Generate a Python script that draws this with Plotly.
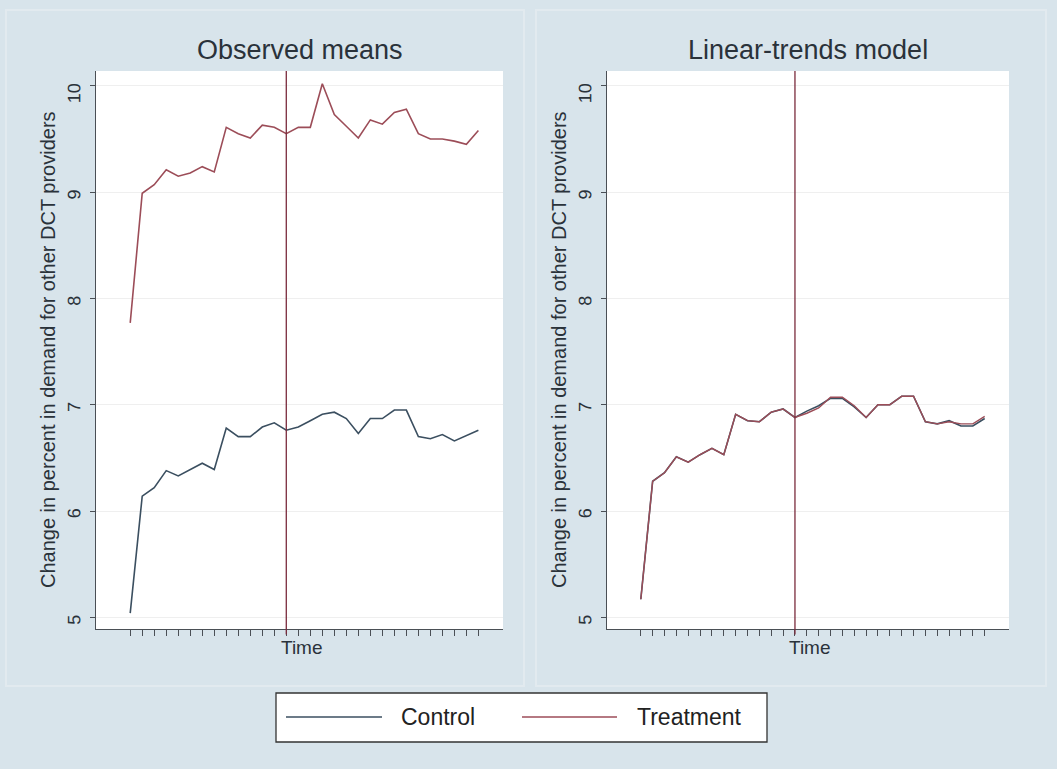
import plotly.graph_objects as go

# ---- data ----
time_idx = list(range(30))
intervention_time = 13

obs_control = [5.04, 6.14, 6.22, 6.38, 6.33, 6.39, 6.45, 6.39, 6.78, 6.70,
               6.70, 6.79, 6.83, 6.76, 6.79, 6.85, 6.91, 6.93, 6.87, 6.73,
               6.87, 6.87, 6.95, 6.95, 6.70, 6.68, 6.72, 6.66, 6.71, 6.76]
obs_treatment = [7.77, 8.99, 9.07, 9.21, 9.15, 9.18, 9.24, 9.19, 9.61, 9.55,
                 9.51, 9.63, 9.61, 9.55, 9.61, 9.61, 10.02, 9.73, 9.62, 9.51,
                 9.68, 9.64, 9.75, 9.78, 9.55, 9.50, 9.50, 9.48, 9.45, 9.58]
mod_control = [5.17, 6.28, 6.36, 6.51, 6.46, 6.53, 6.59, 6.53, 6.91, 6.85,
               6.84, 6.93, 6.96, 6.88, 6.94, 6.99, 7.06, 7.06, 6.98, 6.88,
               7.00, 7.00, 7.08, 7.08, 6.84, 6.82, 6.85, 6.80, 6.80, 6.87]
mod_treatment = [5.17, 6.28, 6.36, 6.51, 6.46, 6.53, 6.59, 6.53, 6.91, 6.85,
                 6.84, 6.93, 6.96, 6.88, 6.92, 6.97, 7.07, 7.07, 6.99, 6.88,
                 7.00, 7.00, 7.08, 7.08, 6.84, 6.82, 6.84, 6.82, 6.82, 6.89]

panel_titles = ["Observed means", "Linear-trends model"]
y_title = "Change in percent in demand for other DCT providers"
x_title = "Time"
y_ticks = [5, 6, 7, 8, 9, 10]
legend_names = ["Control", "Treatment"]

# ---- style ----
W, H = 1057, 769
BG = "#d8e4eb"
C_CTRL = "#3b4f60"
C_TREAT = "#9c4d58"
C_VLINE = "#7a2b3c"
AX = "#4a4f55"
TXT = "#2a323a"
FONT = "Liberation Sans, Arial, sans-serif"

def px(x):
    return x / W

def py(y):
    return 1 - y / H

fig = go.Figure()

fig.add_trace(go.Scatter(x=time_idx, y=obs_control, mode="lines", xaxis="x", yaxis="y",
                         line=dict(color=C_CTRL, width=1.6), showlegend=False, name=legend_names[0]))
fig.add_trace(go.Scatter(x=time_idx, y=obs_treatment, mode="lines", xaxis="x", yaxis="y",
                         line=dict(color=C_TREAT, width=1.6), showlegend=False, name=legend_names[1]))
fig.add_trace(go.Scatter(x=time_idx, y=mod_control, mode="lines", xaxis="x2", yaxis="y2",
                         line=dict(color=C_CTRL, width=1.6), showlegend=False, name=legend_names[0]))
fig.add_trace(go.Scatter(x=time_idx, y=mod_treatment, mode="lines", xaxis="x2", yaxis="y2",
                         line=dict(color=C_TREAT, width=1.4), showlegend=False, name=legend_names[1]))

ydom = [py(629), py(71)]
xdoms = [[px(96), px(503)], [px(607), px(1009)]]

common_x = dict(range=[-2.85, 31.05], tickvals=time_idx, ticktext=[""] * len(time_idx),
                ticks="outside", ticklen=6, tickcolor=AX, tickwidth=1,
                showline=True, linecolor=AX, linewidth=1.2, showgrid=False, zeroline=False,
                fixedrange=True)
common_y = dict(range=[4.89, 10.14], tickvals=y_ticks, ticks="outside", ticklen=5,
                tickcolor=AX, tickwidth=1, tickangle=-89.9, ticklabelstandoff=15,
                tickfont=dict(family=FONT, size=18, color=TXT),
                showline=True, linecolor=AX, linewidth=1.2,
                showgrid=True, gridcolor="#efefef", gridwidth=1, zeroline=False, fixedrange=True)

fig.update_layout(
    width=W, height=H,
    margin=dict(l=0, r=0, t=0, b=0),
    paper_bgcolor=BG, plot_bgcolor="white",
    font=dict(family=FONT, color=TXT),
    showlegend=False,
    xaxis=dict(domain=xdoms[0], anchor="y", **common_x),
    yaxis=dict(domain=ydom, anchor="x", **common_y),
    xaxis2=dict(domain=xdoms[1], anchor="y2", **common_x),
    yaxis2=dict(domain=ydom, anchor="x2", **common_y),
)

shapes = []
# subtle panel frames
for x0, x1 in [(6, 524), (536, 1046)]:
    shapes.append(dict(type="rect", xref="paper", yref="paper", x0=px(x0), x1=px(x1),
                       y0=py(686), y1=py(10), line=dict(color="#e2eaef", width=2),
                       fillcolor="rgba(0,0,0,0)", layer="below"))
# intervention lines
for xr, yr in [("x", "y domain"), ("x2", "y2 domain")]:
    shapes.append(dict(type="line", xref=xr, yref=yr, x0=intervention_time, x1=intervention_time,
                       y0=-0.01, y1=1.0, line=dict(color=C_VLINE, width=1.3)))
# legend box
shapes.append(dict(type="rect", xref="paper", yref="paper", x0=px(276), x1=px(767),
                   y0=py(742), y1=py(693), line=dict(color="#333333", width=1.3),
                   fillcolor="white"))
shapes.append(dict(type="line", xref="paper", yref="paper", x0=px(286), x1=px(382),
                   y0=py(717), y1=py(717), line=dict(color=C_CTRL, width=1.6)))
shapes.append(dict(type="line", xref="paper", yref="paper", x0=px(522), x1=px(617),
                   y0=py(717), y1=py(717), line=dict(color=C_TREAT, width=1.6)))
fig.update_layout(shapes=shapes)

annotations = []
for i, (xd, t) in enumerate(zip(xdoms, panel_titles)):
    cx = (xd[0] + xd[1]) / 2
    annotations.append(dict(text=t, x=cx, y=py(50), xref="paper", yref="paper",
                            xanchor="center", yanchor="middle", showarrow=False,
                            font=dict(family=FONT, size=27, color=TXT)))
    annotations.append(dict(text=x_title, x=cx + px(2), y=py(647), xref="paper", yref="paper",
                            xanchor="center", yanchor="middle", showarrow=False,
                            font=dict(family=FONT, size=19, color=TXT)))
    annotations.append(dict(text=y_title, x=xd[0] - px(48), y=(ydom[0] + ydom[1]) / 2,
                            xref="paper", yref="paper", textangle=-90,
                            xanchor="center", yanchor="middle", showarrow=False,
                            font=dict(family=FONT, size=20, color=TXT)))
annotations.append(dict(text=legend_names[0], x=px(399), y=py(717), xref="paper", yref="paper",
                        xanchor="left", yanchor="middle", showarrow=False,
                        font=dict(family=FONT, size=23, color="#222222")))
annotations.append(dict(text=legend_names[1], x=px(635), y=py(717), xref="paper", yref="paper",
                        xanchor="left", yanchor="middle", showarrow=False,
                        font=dict(family=FONT, size=23, color="#222222")))
fig.update_layout(annotations=annotations)

fig.write_html("out.html", config={"displayModeBar": False},
               post_script="document.body.style.margin='0';")
